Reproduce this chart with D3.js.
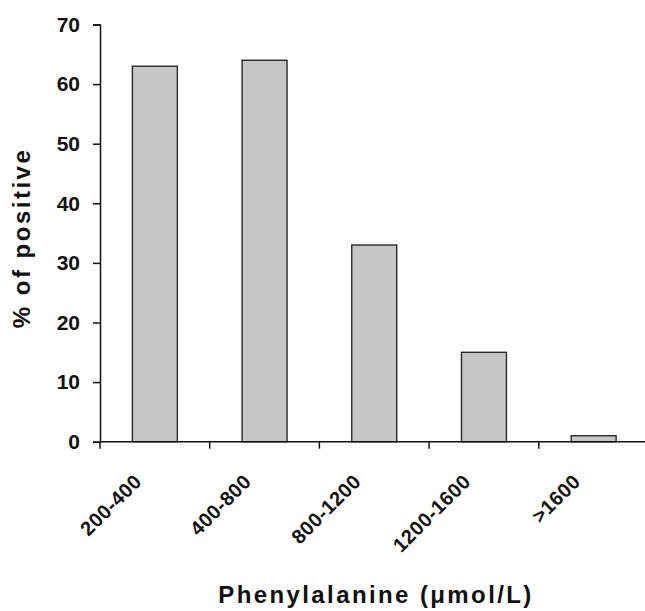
<!DOCTYPE html>
<html>
<head>
<meta charset="utf-8">
<script src="https://cdn.jsdelivr.net/npm/d3@7"></script>
<style>
  html, body { margin: 0; padding: 0; background: #fff; }
  svg { display: block; }
  text { font-family: "Liberation Sans", Arial, Helvetica, sans-serif; font-weight: bold; fill: #111; }
</style>
</head>
<body>
<svg id="chart" width="645" height="611"></svg>
<script>
const categories = ["200-400", "400-800", "800-1200", "1200-1600", ">1600"];
const values = [63, 64, 33, 15, 1];
const yTicks = [0, 10, 20, 30, 40, 50, 60, 70];
const xTitle = "Phenylalanine (\u03bcmol/L)";
const yTitle = "% of positive";

(function () {
const svg = d3.select("#chart");
const mLeft = 100, mRight = 648.5, mTop = 24.5, mBottom = 441.7;

const x = d3.scaleBand().domain(categories).range([mLeft, mRight])
  .paddingInner(0.59).paddingOuter(0.295);
const y = d3.scaleLinear().domain([0, 70]).range([mBottom, mTop]);
const step = x.step();

// bars
svg.append("g").selectAll("rect").data(values).join("rect")
  .attr("x", (d, i) => x(categories[i]))
  .attr("y", d => y(d))
  .attr("width", x.bandwidth())
  .attr("height", d => y(0) - y(d))
  .attr("fill", "#c6c6c6")
  .attr("stroke", "#2a2a2a")
  .attr("stroke-width", 1.4);

// y axis
const yAxis = d3.axisLeft(y).tickValues(yTicks).tickSize(7).tickPadding(13).tickFormat(d3.format("d"));
const gy = svg.append("g").attr("transform", `translate(${mLeft},0)`).call(yAxis);
gy.select(".domain").attr("stroke", "#111").attr("stroke-width", 1.5);
gy.selectAll(".tick line").attr("stroke", "#111").attr("stroke-width", 1.5);
gy.selectAll(".tick text").attr("font-size", 21).attr("font-family", "Liberation Sans, Arial, sans-serif")
  .attr("font-weight", "bold").attr("fill", "#111");

// x axis line
svg.append("line").attr("x1", mLeft).attr("x2", 645).attr("y1", y(0)).attr("y2", y(0))
  .attr("stroke", "#111").attr("stroke-width", 1.5);

// category boundary ticks
const bounds = [mLeft].concat(categories.map(c => x(c) + x.bandwidth() / 2 + step / 2));
svg.append("g").selectAll("line").data(bounds).join("line")
  .attr("x1", d => d).attr("x2", d => d)
  .attr("y1", y(0)).attr("y2", y(0) + 7)
  .attr("stroke", "#111").attr("stroke-width", 1.5);

// x tick labels rotated
svg.append("g").selectAll("text").data(categories).join("text")
  .attr("transform", d => `translate(${x(d) + x.bandwidth() / 2 - 12},${y(0) + 41}) rotate(-45)`)
  .attr("text-anchor", "end")
  .attr("font-size", 20)
  .attr("letter-spacing", 0.5)
  .text(d => d);

// x title
svg.append("text")
  .attr("x", 376).attr("y", 603)
  .attr("text-anchor", "middle")
  .attr("font-size", 24)
  .attr("letter-spacing", 2.4)
  .text(xTitle);

// y title
svg.append("text")
  .attr("transform", "translate(30,238) rotate(-90)")
  .attr("text-anchor", "middle")
  .attr("font-size", 24)
  .attr("letter-spacing", 2.5)
  .text(yTitle);
})();
</script>
</body>
</html>
